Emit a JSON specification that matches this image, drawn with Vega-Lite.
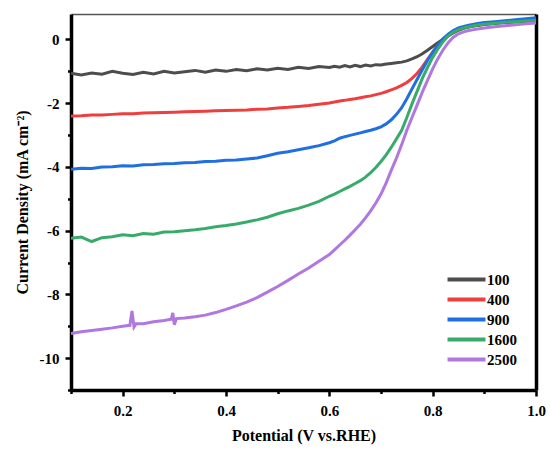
{
  "$schema": "https://vega.github.io/schema/vega-lite/v6.json",
  "width": 465,
  "height": 376,
  "autosize": "none",
  "padding": {"left": 71, "top": 14, "right": 14, "bottom": 60},
  "background": "white",
  "config": {"view": {"stroke": null}},
  "data": {
    "values": [
      {"x": 0.10, "100": -1.06, "400": -2.40, "900": -4.07, "1600": -6.24, "2500": -9.23},
      {"x": 0.12, "100": -1.11, "400": -2.39, "900": -4.04, "1600": -6.20, "2500": -9.17},
      {"x": 0.14, "100": -1.05, "400": -2.37, "900": -4.05, "1600": -6.34, "2500": -9.13},
      {"x": 0.16, "100": -1.09, "400": -2.37, "900": -4.00, "1600": -6.22, "2500": -9.09},
      {"x": 0.18, "100": -1.00, "400": -2.35, "900": -3.99, "1600": -6.19, "2500": -9.05},
      {"x": 0.20, "100": -1.06, "400": -2.33, "900": -3.96, "1600": -6.13, "2500": -9.00},
      {"x": 0.214, "2500": -8.97},
      {"x": 0.218, "2500": -8.52},
      {"x": 0.222, "2500": -9.02},
      {"x": 0.226, "2500": -8.92},
      {"x": 0.22, "100": -1.10, "400": -2.33, "900": -3.97, "1600": -6.16},
      {"x": 0.24, "100": -1.03, "400": -2.31, "900": -3.93, "1600": -6.09, "2500": -8.92},
      {"x": 0.26, "100": -1.08, "400": -2.30, "900": -3.92, "1600": -6.11, "2500": -8.86},
      {"x": 0.28, "100": -1.00, "400": -2.29, "900": -3.90, "1600": -6.04, "2500": -8.82},
      {"x": 0.294, "2500": -8.78},
      {"x": 0.297, "2500": -8.58},
      {"x": 0.30, "100": -1.05, "400": -2.28, "900": -3.89, "1600": -6.03, "2500": -8.95},
      {"x": 0.304, "2500": -8.76},
      {"x": 0.32, "100": -1.01, "400": -2.27, "900": -3.87, "1600": -6.00, "2500": -8.74},
      {"x": 0.34, "100": -0.97, "400": -2.26, "900": -3.86, "1600": -5.97, "2500": -8.70},
      {"x": 0.36, "100": -1.03, "400": -2.25, "900": -3.83, "1600": -5.93, "2500": -8.65},
      {"x": 0.38, "100": -0.96, "400": -2.24, "900": -3.82, "1600": -5.88, "2500": -8.57},
      {"x": 0.40, "100": -1.00, "400": -2.23, "900": -3.79, "1600": -5.84, "2500": -8.47},
      {"x": 0.42, "100": -0.94, "400": -2.22, "900": -3.78, "1600": -5.79, "2500": -8.36},
      {"x": 0.44, "100": -0.98, "400": -2.21, "900": -3.75, "1600": -5.73, "2500": -8.24},
      {"x": 0.46, "100": -0.92, "400": -2.19, "900": -3.72, "1600": -5.66, "2500": -8.10},
      {"x": 0.48, "100": -0.96, "400": -2.18, "900": -3.65, "1600": -5.58, "2500": -7.93},
      {"x": 0.50, "100": -0.90, "400": -2.15, "900": -3.57, "1600": -5.47, "2500": -7.75},
      {"x": 0.52, "100": -0.94, "400": -2.13, "900": -3.52, "1600": -5.38, "2500": -7.56},
      {"x": 0.54, "100": -0.87, "400": -2.10, "900": -3.46, "1600": -5.30, "2500": -7.36},
      {"x": 0.56, "100": -0.91, "400": -2.07, "900": -3.40, "1600": -5.20, "2500": -7.17},
      {"x": 0.58, "100": -0.85, "400": -2.03, "900": -3.33, "1600": -5.08, "2500": -6.96},
      {"x": 0.60, "100": -0.88, "400": -1.99, "900": -3.24, "1600": -4.92, "2500": -6.75},
      {"x": 0.61, "100": -0.84, "400": -1.96, "900": -3.18, "1600": -4.85, "2500": -6.60},
      {"x": 0.62, "100": -0.87, "400": -1.93, "900": -3.10, "1600": -4.77, "2500": -6.45},
      {"x": 0.63, "100": -0.82, "400": -1.91, "900": -3.05, "1600": -4.69, "2500": -6.30},
      {"x": 0.64, "100": -0.86, "400": -1.88, "900": -3.01, "1600": -4.61, "2500": -6.14},
      {"x": 0.65, "100": -0.81, "400": -1.86, "900": -2.97, "1600": -4.52, "2500": -5.97},
      {"x": 0.66, "100": -0.85, "400": -1.83, "900": -2.93, "1600": -4.43, "2500": -5.80},
      {"x": 0.67, "100": -0.80, "400": -1.80, "900": -2.89, "1600": -4.32, "2500": -5.60},
      {"x": 0.68, "100": -0.83, "400": -1.77, "900": -2.85, "1600": -4.18, "2500": -5.38},
      {"x": 0.69, "100": -0.79, "400": -1.73, "900": -2.80, "1600": -4.02, "2500": -5.13},
      {"x": 0.70, "100": -0.80, "400": -1.69, "900": -2.74, "1600": -3.83, "2500": -4.85},
      {"x": 0.71, "100": -0.77, "400": -1.64, "900": -2.65, "1600": -3.62, "2500": -4.50},
      {"x": 0.72, "100": -0.75, "400": -1.58, "900": -2.52, "1600": -3.38, "2500": -4.10},
      {"x": 0.73, "100": -0.73, "400": -1.52, "900": -2.35, "1600": -3.12, "2500": -3.72},
      {"x": 0.74, "100": -0.71, "400": -1.44, "900": -2.14, "1600": -2.85, "2500": -3.30},
      {"x": 0.75, "100": -0.67, "400": -1.35, "900": -1.86, "1600": -2.45, "2500": -2.85},
      {"x": 0.76, "100": -0.61, "400": -1.22, "900": -1.55, "1600": -2.02, "2500": -2.45},
      {"x": 0.77, "100": -0.54, "400": -1.06, "900": -1.25, "1600": -1.62, "2500": -2.05},
      {"x": 0.78, "100": -0.45, "400": -0.86, "900": -0.95, "1600": -1.22, "2500": -1.65},
      {"x": 0.79, "100": -0.34, "400": -0.62, "900": -0.66, "1600": -0.88, "2500": -1.28},
      {"x": 0.80, "100": -0.22, "400": -0.40, "900": -0.40, "1600": -0.56, "2500": -0.92},
      {"x": 0.81, "100": -0.10, "400": -0.19, "900": -0.18, "1600": -0.30, "2500": -0.60},
      {"x": 0.82, "100": 0.01, "400": 0.00, "900": 0.02, "1600": -0.07, "2500": -0.33},
      {"x": 0.83, "100": 0.11, "400": 0.14, "900": 0.17, "1600": 0.11, "2500": -0.10},
      {"x": 0.84, "100": 0.21, "400": 0.25, "900": 0.28, "1600": 0.23, "2500": 0.07},
      {"x": 0.85, "100": 0.29, "400": 0.33, "900": 0.36, "1600": 0.31, "2500": 0.18},
      {"x": 0.86, "100": 0.35, "400": 0.38, "900": 0.41, "1600": 0.36, "2500": 0.24},
      {"x": 0.87, "100": 0.39, "400": 0.42, "900": 0.45, "1600": 0.40, "2500": 0.28},
      {"x": 0.88, "100": 0.42, "400": 0.45, "900": 0.48, "1600": 0.43, "2500": 0.31},
      {"x": 0.89, "100": 0.45, "400": 0.48, "900": 0.51, "1600": 0.46, "2500": 0.34},
      {"x": 0.90, "100": 0.47, "400": 0.50, "900": 0.53, "1600": 0.48, "2500": 0.36},
      {"x": 0.92, "100": 0.50, "400": 0.53, "900": 0.56, "1600": 0.51, "2500": 0.40},
      {"x": 0.94, "100": 0.53, "400": 0.56, "900": 0.59, "1600": 0.54, "2500": 0.43},
      {"x": 0.96, "100": 0.55, "400": 0.58, "900": 0.62, "1600": 0.56, "2500": 0.46},
      {"x": 0.98, "100": 0.57, "400": 0.60, "900": 0.65, "1600": 0.58, "2500": 0.49},
      {"x": 1.00, "100": 0.59, "400": 0.62, "900": 0.68, "1600": 0.60, "2500": 0.52}
    ]
  },
  "transform": [
    {"fold": ["100", "400", "900", "1600", "2500"], "as": ["key", "value"]},
    {"filter": "isValid(datum.value)"}
  ],
  "layer": [
    {
      "mark": {"type": "line", "strokeWidth": 3, "clip": true},
      "encoding": {
        "x": {
          "field": "x", "type": "quantitative",
          "scale": {"domain": [0.1, 1.0], "nice": false, "zero": false},
          "axis": {
            "orient": "bottom",
            "values": [0.1, 0.2, 0.3, 0.4, 0.5, 0.6, 0.7, 0.8, 0.9, 1.0],
            "labelExpr": "round(datum.value*10) % 2 == 0 ? format(datum.value, '.1f') : ''",
            "tickSize": {"condition": {"test": "round(datum.value*10) % 2 == 0", "value": 6}, "value": 3.5},
            "tickWidth": 2.5, "tickColor": "black",
            "domainColor": "black", "domainWidth": 3.5,
            "grid": false,
            "labelFont": "Liberation Serif", "labelFontSize": 15, "labelFontWeight": "bold", "labelColor": "black",
            "labelPadding": 7,
            "labelFlush": false,
            "title": "Potential (V vs.RHE)",
            "titleFont": "Liberation Serif", "titleFontSize": 16, "titleFontWeight": "bold", "titleColor": "black",
            "titlePadding": 9
          }
        },
        "y": {
          "field": "value", "type": "quantitative",
          "scale": {"domain": [-11, 0.8], "nice": false, "zero": false},
          "axis": {
            "orient": "left",
            "values": [-11, -10, -9, -8, -7, -6, -5, -4, -3, -2, -1, 0],
            "labelExpr": "datum.value % 2 == 0 ? '' + datum.value : ''",
            "tickSize": {"condition": {"test": "datum.value % 2 == 0", "value": 6}, "value": 3.5},
            "tickWidth": 2.5, "tickColor": "black",
            "domainColor": "black", "domainWidth": 3.5,
            "grid": false,
            "labelFont": "Liberation Serif", "labelFontSize": 15, "labelFontWeight": "bold", "labelColor": "black",
            "labelPadding": 6,
            "labelFlush": false,
            "title": "Current Density (mA cm⁻²)",
            "titleFont": "Liberation Serif", "titleFontSize": 16, "titleFontWeight": "bold", "titleColor": "black",
            "titlePadding": 9
          }
        },
        "color": {
          "field": "key", "type": "nominal",
          "scale": {"domain": ["100", "400", "900", "1600", "2500"], "range": ["#4d4d4d", "#ef3e3e", "#1f6fe0", "#38ab6a", "#b077e0"]},
          "legend": {
            "orient": "none", "legendX": 387, "legendY": 257,
            "title": null, "symbolType": "M-3,0H3", "symbolSize": 160, "symbolStrokeWidth": 4,
            "labelFont": "Liberation Serif", "labelFontSize": 15, "labelFontWeight": "bold", "labelColor": "black",
            "labelOffset": 12, "rowPadding": 3, "padding": 0
          }
        }
      }
    },
    {
      "mark": {"type": "line", "opacity": 0},
      "encoding": {
        "x": {"field": "x", "type": "quantitative",
          "axis": {"orient": "top", "labels": false, "ticks": false, "title": null, "grid": false, "domainColor": "#555555", "domainWidth": 1.5}},
        "y": {"field": "value", "type": "quantitative",
          "axis": {"orient": "right", "labels": false, "ticks": false, "title": null, "grid": false, "domainColor": "black", "domainWidth": 3.5}}
      }
    }
  ],
  "resolve": {"axis": {"x": "independent", "y": "independent"}}
}
